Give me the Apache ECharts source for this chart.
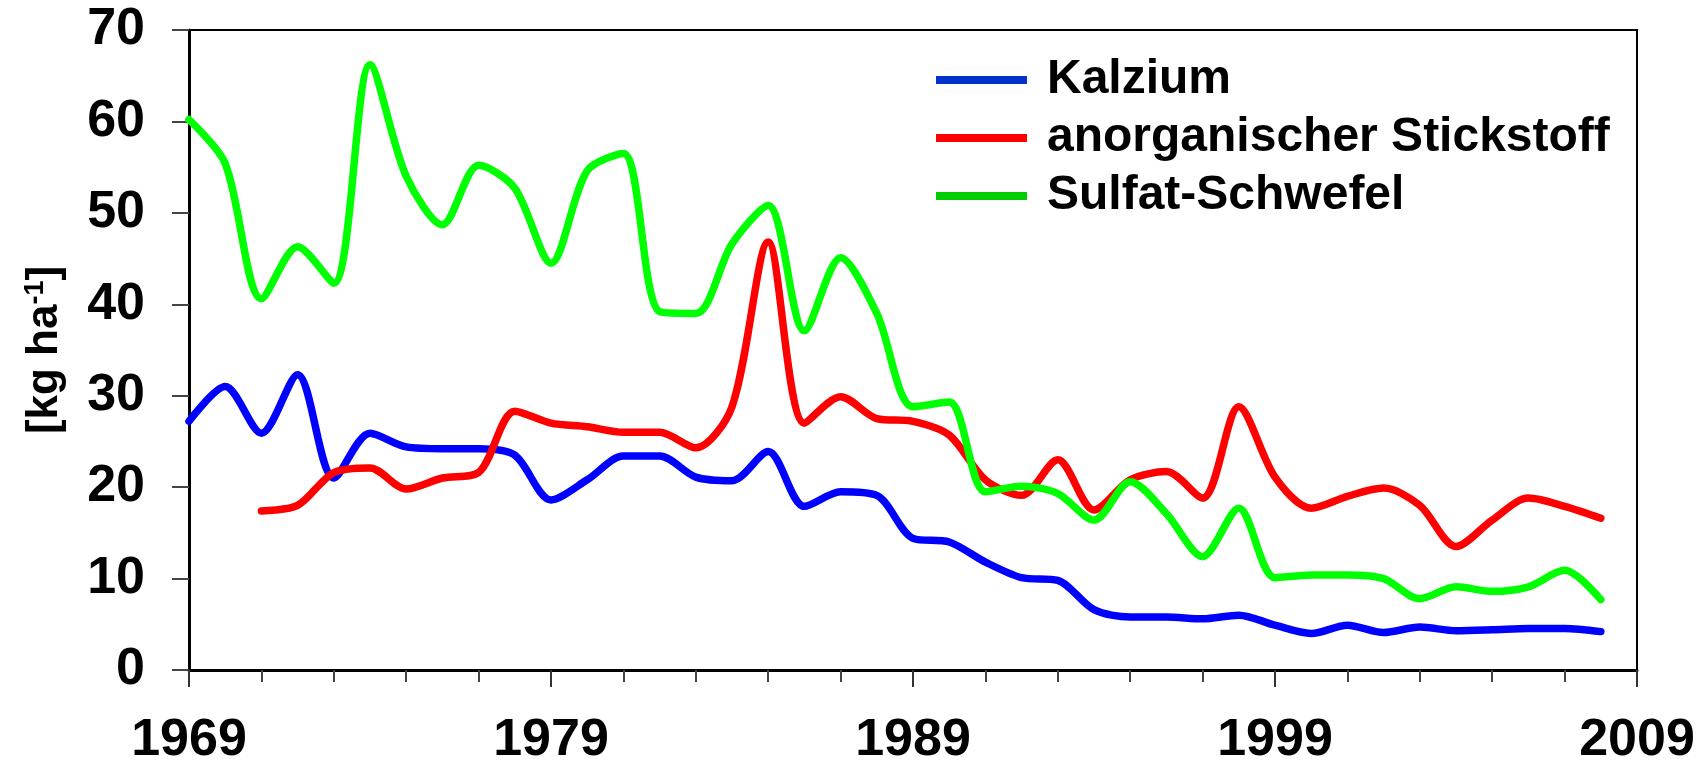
<!DOCTYPE html>
<html>
<head>
<meta charset="utf-8">
<script src="https://cdn.jsdelivr.net/npm/echarts/dist/echarts.min.js"></script>
<style>
  html, body { margin: 0; padding: 0; background: #fff; }
  #chart { width: 1708px; height: 771px; }
</style>
</head>
<body>
<div id="chart"></div>
<script>
// jahre 1969..2008, werte in kg/ha
var years = [1969,1970,1971,1972,1973,1974,1975,1976,1977,1978,
             1979,1980,1981,1982,1983,1984,1985,1986,1987,1988,
             1989,1990,1991,1992,1993,1994,1995,1996,1997,1998,
             1999,2000,2001,2002,2003,2004,2005,2006,2007,2008];
var kalzium = [27.2,31.0,25.9,32.3,21.0,25.9,24.4,24.2,24.2,23.5,
               18.6,20.8,23.4,23.4,21.1,20.7,23.9,17.9,19.5,19.1,
               14.4,14.0,11.8,10.1,9.8,6.6,5.8,5.8,5.6,6.0,
               4.9,4.0,4.9,4.1,4.7,4.3,4.4,4.55,4.55,4.2];
var stickstoff = [null,null,17.4,18.0,21.6,22.1,19.8,21.0,21.6,28.3,
                  27.0,26.6,26.0,26.0,24.3,28.8,46.8,27.0,29.9,27.5,
                  27.2,25.7,20.8,19.1,23.0,17.5,20.8,21.7,18.8,28.8,
                  21.1,17.7,19.0,19.9,18.0,13.5,16.4,18.8,17.9,16.6];
var schwefel = [60.2,55.4,40.6,46.3,42.3,66.2,54.0,48.7,55.2,52.7,
                44.5,54.6,56.5,39.2,39.0,46.6,50.8,37.1,45.1,39.0,
                28.8,29.3,19.5,20.1,19.3,16.4,20.6,17.1,12.4,17.7,
                10.1,10.4,10.4,10.0,7.8,9.1,8.6,9.1,10.9,7.7];
var seriesNames = ['Kalzium', 'anorganischer Stickstoff', 'Sulfat-Schwefel'];
var lineColors = ['#0000ff', '#ff0000', '#00ff00'];
var legendColors = ['#0033cc', '#ff0000', '#00cc00'];
var startYear = 1969;

var font = "'Liberation Sans', Arial, Helvetica, sans-serif";

function toPoints(values) {
    var pts = [];
    for (var i = 0; i < years.length; i++) {
        pts.push([years[i] - startYear, values[i]]);
    }
    return pts;
}

var chart = echarts.init(document.getElementById('chart'), null, {renderer: 'canvas'});
var valueLists = [kalzium, stickstoff, schwefel];
var series = [];
for (var s = 0; s < seriesNames.length; s++) {
    series.push({
        name: seriesNames[s],
        type: 'line',
        smooth: 0.3,
        symbol: 'none',
        lineStyle: {color: lineColors[s], width: 7.5, cap: 'round', join: 'round'},
        itemStyle: {color: lineColors[s]},
        data: toPoints(valueLists[s])
    });
}

var option = {
    animation: false,
    backgroundColor: '#fff',
    grid: {
        left: 189, right: 71, top: 30, bottom: 101,
        show: true, borderColor: '#000', borderWidth: 2
    },
    legend: {
        orient: 'vertical',
        left: 936,
        top: 56,
        padding: 0,
        itemWidth: 91,
        itemHeight: 8,
        itemGap: 10,
        icon: 'rect',
        textStyle: {fontFamily: font, fontWeight: 'bold', fontSize: 48, color: '#000', padding: [0, 0, 0, 15]},
        data: seriesNames.map(function (n, i) {
            return {name: n, itemStyle: {color: legendColors[i]}};
        })
    },
    xAxis: {
        type: 'value',
        min: 0, max: 40, interval: 10,
        splitLine: {show: false},
        axisLine: {onZero: false, lineStyle: {color: '#000', width: 3}},
        axisTick: {show: true, length: 17, lineStyle: {color: '#333', width: 2}},
        minorTick: {show: true, splitNumber: 5, length: 12, lineStyle: {color: '#444', width: 2}},
        axisLabel: {
            margin: 45,
            fontFamily: font, fontWeight: 'bold', fontSize: 52, color: '#000',
            formatter: function (v) { return String(v + startYear); }
        }
    },
    yAxis: {
        type: 'value',
        min: 0, max: 70, interval: 10,
        splitLine: {show: false},
        axisLine: {lineStyle: {color: '#000', width: 3}},
        axisTick: {show: true, length: 17, lineStyle: {color: '#444', width: 2}},
        axisLabel: {margin: 44, fontFamily: font, fontWeight: 'bold', fontSize: 52, color: '#000'},
        name: '[kg ha{sup|-1}]',
        nameLocation: 'middle',
        nameGap: 122,
        nameTextStyle: {
            fontFamily: font, fontWeight: 'bold', fontSize: 44, color: '#000',
            rich: {sup: {fontFamily: font, fontWeight: 'bold', fontSize: 27, color: '#000', verticalAlign: 'top', padding: [0, 0, 18, 0]}}
        }
    },
    series: series
};
chart.setOption(option);
</script>
</body>
</html>
